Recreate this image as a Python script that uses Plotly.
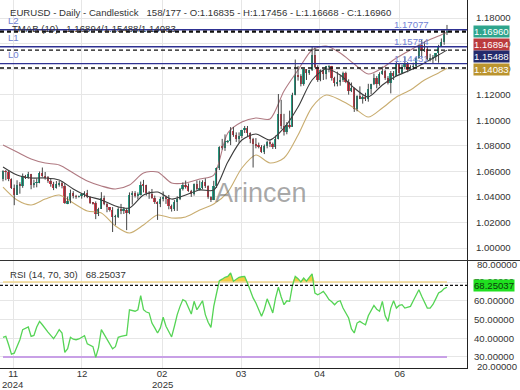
import plotly.graph_objects as go

# ---------------- data ----------------
OPEN = [1.0542, 1.0600, 1.0595, 1.0543, 1.0473, 1.0418, 1.0495, 1.0488, 1.0566, 1.0555,
        1.0577, 1.0497, 1.0509, 1.0512, 1.0588, 1.0567, 1.0554, 1.0528, 1.0501, 1.0467,
        1.0500, 1.0512, 1.0489, 1.0352, 1.0364, 1.0430, 1.0405, 1.0404, 1.0405, 1.0422,
        1.0428, 1.0402, 1.0354, 1.0352, 1.0265, 1.0307, 1.0389, 1.0343, 1.0319, 1.0298,
        1.0244, 1.0244, 1.0308, 1.0292, 1.0301, 1.0273, 1.0415, 1.0431, 1.0408, 1.0415,
        1.0494, 1.0493, 1.0430, 1.0424, 1.0390, 1.0362, 1.0344, 1.0381, 1.0403, 1.0382,
        1.0330, 1.0308, 1.0362, 1.0383, 1.0464, 1.0491, 1.0484, 1.0448, 1.0420, 1.0501,
        1.0458, 1.0467, 1.0513, 1.0486, 1.0398, 1.0376, 1.0485, 1.0626, 1.0792, 1.0783,
        1.0834, 1.0834, 1.0918, 1.0888, 1.0851, 1.0880, 1.0922, 1.0943, 1.0899, 1.0853,
        1.0816, 1.0803, 1.0792, 1.0753, 1.0799, 1.0829, 1.0816, 1.0792, 1.0853, 1.1049,
        1.0958, 1.0907, 1.0961, 1.0950, 1.1197, 1.1357, 1.1345, 1.1285, 1.1399, 1.1367,
        1.1393, 1.1512, 1.1420, 1.1311, 1.1391, 1.1362, 1.1421, 1.1424, 1.1329, 1.1290,
        1.1296, 1.1313, 1.1372, 1.1302, 1.1228, 1.1251, 1.1089, 1.1187, 1.1173, 1.1185,
        1.1163, 1.1243, 1.1284, 1.1329, 1.1282, 1.1364, 1.1385, 1.1328, 1.1290, 1.1370,
        1.1347, 1.1443, 1.1371, 1.1419, 1.1445, 1.1397, 1.1420, 1.1423, 1.1487, 1.1585,
        1.1548, 1.1561, 1.1478, 1.1480, 1.1496, 1.1523, 1.1581, 1.1609, 1.16835]
HIGH = [1.0609, 1.0610, 1.0610, 1.0545, 1.0497, 1.0530, 1.0515, 1.0583, 1.0572, 1.0596,
        1.0580, 1.0535, 1.0545, 1.0599, 1.0630, 1.0595, 1.0563, 1.0540, 1.0518, 1.0524,
        1.0525, 1.0520, 1.0509, 1.0403, 1.0457, 1.0445, 1.0416, 1.0410, 1.0425, 1.0444,
        1.0455, 1.0405, 1.0360, 1.0365, 1.0315, 1.0437, 1.0410, 1.0355, 1.0321, 1.0320,
        1.0260, 1.0320, 1.0345, 1.0320, 1.0311, 1.0435, 1.0445, 1.0445, 1.0435, 1.0520,
        1.0533, 1.0495, 1.0445, 1.0462, 1.0410, 1.0365, 1.0400, 1.0442, 1.0410, 1.0415,
        1.0340, 1.0375, 1.0405, 1.0470, 1.0513, 1.0528, 1.0505, 1.0455, 1.0505, 1.0528,
        1.0528, 1.0530, 1.0545, 1.0490, 1.0405, 1.0526, 1.0630, 1.0796, 1.0854, 1.0889,
        1.0845, 1.0946, 1.0947, 1.0905, 1.0905, 1.0925, 1.0955, 1.0955, 1.0905, 1.0862,
        1.0860, 1.0825, 1.0805, 1.0810, 1.0840, 1.0850, 1.0825, 1.0880, 1.1205, 1.1160,
        1.1050, 1.0985, 1.1075, 1.1215, 1.1475, 1.1425, 1.1360, 1.1402, 1.1400, 1.1395,
        1.1573, 1.1570, 1.1430, 1.1397, 1.1400, 1.1425, 1.1430, 1.1425, 1.1340, 1.1380,
        1.1350, 1.1380, 1.1380, 1.1320, 1.1295, 1.1255, 1.1195, 1.1265, 1.1195, 1.1215,
        1.1285, 1.1285, 1.1365, 1.1345, 1.1375, 1.1420, 1.1395, 1.1345, 1.1385, 1.1385,
        1.1455, 1.1445, 1.1435, 1.1495, 1.1455, 1.1430, 1.1450, 1.1495, 1.1590, 1.1631,
        1.1615, 1.1575, 1.1520, 1.1510, 1.1525, 1.1590, 1.1640, 1.1700, 1.17456]
LOW = [1.0522, 1.0530, 1.0523, 1.0462, 1.0335, 1.0415, 1.0425, 1.0471, 1.0540, 1.0541,
       1.0460, 1.0472, 1.0475, 1.0507, 1.0557, 1.0535, 1.0510, 1.0480, 1.0453, 1.0465,
       1.0480, 1.0467, 1.0345, 1.0343, 1.0350, 1.0388, 1.0385, 1.0395, 1.0386, 1.0397,
       1.0390, 1.0345, 1.0340, 1.0226, 1.0250, 1.0305, 1.0335, 1.0280, 1.0285, 1.0125,
       1.0178, 1.0235, 1.0265, 1.0266, 1.0140, 1.0265, 1.0340, 1.0395, 1.0380, 1.0412,
       1.0435, 1.0410, 1.0385, 1.0385, 1.0345, 1.0220, 1.0320, 1.0365, 1.0345, 1.0303,
       1.0285, 1.0290, 1.0290, 1.0375, 1.0450, 1.0465, 1.0440, 1.0400, 1.0410, 1.0450,
       1.0450, 1.0460, 1.0470, 1.0385, 1.0360, 1.0375, 1.0470, 1.0610, 1.0770, 1.0760,
       1.0820, 1.0805, 1.0870, 1.0830, 1.0823, 1.0860, 1.0900, 1.0870, 1.0820, 1.0630,
       1.0780, 1.0780, 1.0745, 1.0735, 1.0780, 1.0790, 1.0775, 1.0775, 1.0850, 1.0930,
       1.0880, 1.0890, 1.0935, 1.0950, 1.1195, 1.1310, 1.1265, 1.1270, 1.1315, 1.1355,
       1.1385, 1.1410, 1.1300, 1.1305, 1.1315, 1.1320, 1.1375, 1.1310, 1.1265, 1.1265,
       1.1270, 1.1300, 1.1290, 1.1200, 1.1220, 1.1065, 1.1070, 1.1165, 1.1130, 1.1150,
       1.1145, 1.1205, 1.1275, 1.1250, 1.1270, 1.1355, 1.1315, 1.1280, 1.1210, 1.1315,
       1.1345, 1.1355, 1.1370, 1.1400, 1.1375, 1.1395, 1.1395, 1.1410, 1.1480, 1.1490,
       1.1535, 1.1470, 1.1460, 1.1445, 1.1465, 1.1450, 1.1580, 1.1590, 1.16668]
CLOSE = [1.0600, 1.0595, 1.0543, 1.0473, 1.0418, 1.0495, 1.0488, 1.0566, 1.0555, 1.0577,
         1.0497, 1.0509, 1.0512, 1.0588, 1.0567, 1.0554, 1.0528, 1.0501, 1.0467, 1.0500,
         1.0512, 1.0489, 1.0352, 1.0364, 1.0430, 1.0405, 1.0404, 1.0405, 1.0422, 1.0428,
         1.0402, 1.0354, 1.0352, 1.0265, 1.0307, 1.0389, 1.0343, 1.0319, 1.0298, 1.0244,
         1.0244, 1.0308, 1.0292, 1.0301, 1.0273, 1.0415, 1.0431, 1.0408, 1.0415, 1.0494,
         1.0493, 1.0430, 1.0424, 1.0390, 1.0362, 1.0344, 1.0381, 1.0403, 1.0382, 1.0330,
         1.0308, 1.0362, 1.0383, 1.0464, 1.0491, 1.0484, 1.0448, 1.0420, 1.0501, 1.0458,
         1.0467, 1.0513, 1.0486, 1.0398, 1.0376, 1.0485, 1.0626, 1.0792, 1.0783, 1.0834,
         1.0834, 1.0918, 1.0888, 1.0851, 1.0880, 1.0922, 1.0943, 1.0899, 1.0853, 1.0816,
         1.0803, 1.0792, 1.0753, 1.0799, 1.0829, 1.0816, 1.0792, 1.0853, 1.1049, 1.0958,
         1.0907, 1.0961, 1.0950, 1.1197, 1.1357, 1.1345, 1.1285, 1.1399, 1.1367, 1.1393,
         1.1512, 1.1420, 1.1311, 1.1391, 1.1362, 1.1421, 1.1424, 1.1329, 1.1290, 1.1296,
         1.1313, 1.1372, 1.1302, 1.1228, 1.1251, 1.1089, 1.1187, 1.1173, 1.1185, 1.1163,
         1.1243, 1.1284, 1.1329, 1.1282, 1.1364, 1.1385, 1.1328, 1.1290, 1.1370, 1.1347,
         1.1443, 1.1371, 1.1419, 1.1445, 1.1397, 1.1420, 1.1423, 1.1487, 1.1585, 1.1548,
         1.1561, 1.1478, 1.1480, 1.1496, 1.1523, 1.1581, 1.1609, 1.16835, 1.16960]

BAND_IDX = [0, 5, 10, 15, 20, 25, 30, 35, 40, 45, 50, 55, 60, 65, 70, 75, 80, 85, 90, 95,
            100, 105, 110, 115, 120, 125, 130, 135, 140, 145, 150, 155, 158]
TMA_UPPER = [1.0806, 1.0751, 1.0697, 1.0665, 1.0650, 1.0587, 1.0524, 1.0485, 1.0462, 1.0493,
             1.0587, 1.0595, 1.0509, 1.0509, 1.0540, 1.0571, 1.0900, 1.0986, 1.1017, 1.1010,
             1.1229, 1.1393, 1.1550, 1.1581, 1.1526, 1.1440, 1.1362, 1.1409, 1.1487, 1.1550,
             1.1612, 1.1659, 1.16894]
TMA_MID = [1.0634, 1.0571, 1.0548, 1.0548, 1.0532, 1.0462, 1.0407, 1.0376, 1.0329, 1.0313,
           1.0415, 1.0438, 1.0383, 1.0415, 1.0454, 1.0454, 1.0673, 1.0845, 1.0892, 1.0845,
           1.0939, 1.1103, 1.1315, 1.1401, 1.1354, 1.1252, 1.1182, 1.1276, 1.1346, 1.1393,
           1.1448, 1.1510, 1.15488]
TMA_LOWER = [1.0477, 1.0376, 1.0337, 1.0383, 1.0415, 1.0352, 1.0290, 1.0274, 1.0172, 1.0117,
             1.0180, 1.0258, 1.0235, 1.0243, 1.0297, 1.0344, 1.0438, 1.0626, 1.0728, 1.0665,
             1.0704, 1.0884, 1.1103, 1.1197, 1.1158, 1.1096, 1.1025, 1.1096, 1.1182, 1.1237,
             1.1315, 1.1370, 1.14083]

RSI = [40.5, 41.0, 36.5, 31.5, 32.0, 36.0, 39.2, 44.6, 45.5, 46.0,
       41.0, 41.5, 46.0, 49.0, 47.2, 45.0, 43.3, 41.5, 39.8, 42.0,
       44.6, 42.8, 32.5, 34.4, 40.5, 39.5, 39.2, 39.6, 40.5, 41.4,
       37.0, 36.2, 35.5, 29.8, 35.0, 44.6, 42.0, 40.1, 37.5, 34.4,
       35.5, 40.5, 41.0, 41.4, 41.6, 55.2, 54.8, 54.4, 55.2, 62.7,
       55.2, 54.0, 53.5, 48.1, 45.5, 42.8, 45.5, 51.2, 46.4, 43.5,
       40.7, 46.4, 52.6, 57.0, 60.6, 59.7, 56.0, 52.9, 59.7, 55.2,
       57.5, 60.0, 52.6, 48.5, 45.8, 57.0, 64.0, 70.7, 71.5, 72.5,
       73.0, 74.8, 70.4, 71.5, 72.5, 72.8, 73.0, 69.5, 65.0, 61.5,
       58.8, 55.0, 51.7, 55.5, 61.0, 57.5, 53.5, 61.5, 67.2, 62.0,
       57.9, 60.0, 59.7, 68.0, 73.0, 71.8, 70.0, 72.1, 70.4, 72.5,
       74.3, 64.1, 63.2, 64.0, 65.0, 63.0, 60.6, 59.5, 57.9, 59.5,
       60.0, 56.1, 53.0, 50.8, 45.0, 42.8, 48.1, 49.0, 48.0, 47.2,
       52.0, 54.4, 57.5, 55.5, 54.4, 59.7, 52.0, 49.0, 56.1, 60.0,
       56.1, 57.5, 57.9, 56.1, 56.5, 57.0, 60.0, 63.0, 65.9, 62.4,
       59.0, 56.1, 56.1, 58.0, 61.0, 64.1, 65.0, 66.5, 67.2, 68.25037]

RSI_OB, RSI_OS = 70, 30
L_NAMES = ["L2", "L1", "L0"]
L_LEVELS = [1.17077, 1.15754, 1.14431]
LAST_CLOSE = 1.16960
TMA_LAST = [1.16894, 1.15488, 1.14083]
RSI_LAST = 68.25037

XTICK_POS = [3.6, 28.1, 56.6, 84.7, 112.7, 141.2]
XTICK_TEXT = ["11", "12", "02", "03", "04", "06"]
YEAR_POS = [3.6, 56.6]
YEAR_TEXT = ["2024", "2025"]
PRICE_TICKS = [1.00, 1.02, 1.04, 1.06, 1.08, 1.10, 1.12, 1.14, 1.16, 1.18]
RSI_TICKS = [30, 40, 50, 60, 70]
RSI_EDGE_TICKS = [80, 20]

TITLE = "EURUSD - Daily - Candlestick   158/177 - O:1.16835 - H:1.17456 - L:1.16668 - C:1.16960"
TMA_TITLE = "TMAB (10)   1.16894/1.15488/1.14083"
RSI_TITLE = "RSI (14, 70, 30)   68.25037"

# ---------------- geometry ----------------
W, H = 520, 390
ML, MR, MT, MB = 0, 53, 0, 22
PW, PH = W - ML - MR, H - MT - MB


def fx(px):
    return (px - ML) / PW


def fy(py):
    return (PH + MT - py) / PH


FONT = "Liberation Sans, Arial, sans-serif"
TXT = "#333333"
GRID = "#e6e6e6"
UP, DOWN, WICK = "#23a387", "#dc3c4b", "#444444"
FS = 9.6

n = len(CLOSE)
idx = list(range(n))

fig = go.Figure()

# TMA bands
for vals, col in [(TMA_UPPER, "#b07a82"), (TMA_LOWER, "#c9ad70"), (TMA_MID, "#3b3b3b")]:
    fig.add_trace(go.Scatter(x=BAND_IDX, y=vals, mode="lines",
                             line=dict(color=col, width=1.1, shape="spline", smoothing=0.8),
                             hoverinfo="skip", xaxis="x", yaxis="y"))

# wicks
wx, wy = [], []
for i in idx:
    wx += [i, i, None]
    wy += [LOW[i], HIGH[i], None]
fig.add_trace(go.Scatter(x=wx, y=wy, mode="lines", line=dict(color=WICK, width=1),
                         hoverinfo="skip", xaxis="x", yaxis="y"))

# bodies
base = [min(o, c) for o, c in zip(OPEN, CLOSE)]
hgt = [max(abs(c - o), 0.00025) for o, c in zip(OPEN, CLOSE)]
cols = [UP if c >= o else DOWN for o, c in zip(OPEN, CLOSE)]
fig.add_trace(go.Bar(x=idx, y=hgt, base=base, marker=dict(color=cols, line=dict(width=0)),
                     width=0.62, hoverinfo="skip", xaxis="x", yaxis="y"))

# RSI fill above overbought
ob_line = [RSI_OB] * n
fig.add_trace(go.Scatter(x=idx, y=ob_line, mode="lines", line=dict(width=0),
                         hoverinfo="skip", xaxis="x2", yaxis="y2"))
fig.add_trace(go.Scatter(x=idx, y=[max(v, RSI_OB) for v in RSI], mode="lines",
                         line=dict(width=0), fill="tonexty", fillcolor="rgba(243,200,50,0.9)",
                         hoverinfo="skip", xaxis="x2", yaxis="y2"))
fig.add_trace(go.Scatter(x=idx, y=ob_line, mode="lines", line=dict(color="#f2d68c", width=1.5),
                         hoverinfo="skip", xaxis="x2", yaxis="y2"))
fig.add_trace(go.Scatter(x=idx, y=[RSI_OS] * n, mode="lines", line=dict(color="#c8a0e6", width=1.8),
                         hoverinfo="skip", xaxis="x2", yaxis="y2"))
fig.add_trace(go.Scatter(x=idx, y=RSI, mode="lines", line=dict(color="#55d455", width=1.3),
                         hoverinfo="skip", xaxis="x2", yaxis="y2"))

shapes = []
for lv in L_LEVELS:
    shapes.append(dict(type="line", xref="x domain", yref="y", x0=0, x1=1, y0=lv, y1=lv,
                       line=dict(color="#2e3192", width=1.4)))
for lv in [LAST_CLOSE] + TMA_LAST:
    shapes.append(dict(type="line", xref="x domain", yref="y", x0=0, x1=1, y0=lv, y1=lv,
                       line=dict(color="#111111", width=1.4, dash="4px,3px")))
shapes.append(dict(type="line", xref="x2 domain", yref="y2", x0=0, x1=1, y0=RSI_LAST, y1=RSI_LAST,
                   line=dict(color="#111111", width=1.2, dash="3px,2px")))
shapes.append(dict(type="line", xref="paper", yref="paper", x0=0, x1=fx(W), y0=fy(260.5), y1=fy(260.5),
                   line=dict(color="#333333", width=1.2)))

ann = []
ann.append(dict(text=TITLE, xref="paper", yref="paper", x=fx(8), y=fy(12), xanchor="left",
                yanchor="middle", showarrow=False, font=dict(size=FS, color=TXT)))
ann.append(dict(text=TMA_TITLE, xref="paper", yref="paper", x=fx(10), y=fy(28.5), xanchor="left",
                yanchor="middle", showarrow=False, font=dict(size=FS, color=TXT)))
ann.append(dict(text=RSI_TITLE, xref="paper", yref="paper", x=fx(8), y=fy(274), xanchor="left",
                yanchor="middle", showarrow=False, font=dict(size=FS, color=TXT)))
for name, lv in zip(L_NAMES, L_LEVELS):
    ann.append(dict(text=name, xref="paper", yref="y", x=fx(6), y=lv, xanchor="left",
                    yanchor="middle", yshift=9, showarrow=False, font=dict(size=FS, color="#6f7fd0")))
    ann.append(dict(text=f"{lv:.5f}", xref="paper", yref="y", x=fx(392), y=lv, xanchor="left",
                    yanchor="middle", yshift=5, showarrow=False, font=dict(size=FS, color="#7384d6")))
ann.append(dict(text="Arincen", xref="paper", yref="paper", x=fx(261), y=fy(193), xanchor="center",
                yanchor="middle", showarrow=False, font=dict(size=27, color="rgba(110,110,110,0.6)")))

boxes = [(LAST_CLOSE, 0, "#2ea58d"), (TMA_LAST[0], -12, "#bb3a3d"),
         (TMA_LAST[1], -6, "#232b6c"), (TMA_LAST[2], -1, "#bb942e")]
for val, ys, bg in boxes:
    ann.append(dict(text=f"{val:.5f}", xref="paper", yref="y", x=fx(473), y=val, yshift=ys,
                    xanchor="left", yanchor="middle", showarrow=False, bgcolor=bg, borderpad=0,
                    font=dict(size=FS, color="white")))
ann.append(dict(text=f"{RSI_LAST:.5f}", xref="paper", yref="y2", x=fx(473), y=RSI_LAST,
                xanchor="left", yanchor="middle", showarrow=False, bgcolor="#1fe01f", borderpad=0,
                font=dict(size=FS, color="#0d3b0d")))
for v, py in zip(RSI_EDGE_TICKS, [264, 366]):
    ann.append(dict(text=f"{v:.5f}", xref="paper", yref="paper", x=fx(475), y=fy(py),
                    xanchor="left", yanchor="middle", showarrow=False, font=dict(size=FS, color=TXT)))
for xp, yt in zip(YEAR_POS, YEAR_TEXT):
    ann.append(dict(text=yt, xref="x2", yref="paper", x=xp, y=fy(384.5), xanchor="center",
                    yanchor="middle", showarrow=False, font=dict(size=FS, color=TXT)))

x_range = [-1.07, 165.12]
fig.update_layout(
    width=W, height=H, margin=dict(l=ML, r=MR, t=MT, b=MB, autoexpand=False),
    paper_bgcolor="white", plot_bgcolor="white", showlegend=False,
    font=dict(family=FONT, size=FS, color=TXT),
    barmode="overlay", bargap=0,
    shapes=shapes, annotations=ann,
    xaxis=dict(domain=[0, 1], range=x_range, anchor="y", tickvals=XTICK_POS, showticklabels=False,
               showgrid=True, gridcolor=GRID, zeroline=False, ticks="", automargin=False),
    xaxis2=dict(domain=[0, 1], range=x_range, anchor="y2", matches="x", tickvals=XTICK_POS,
                ticktext=XTICK_TEXT, showgrid=True, gridcolor=GRID, zeroline=False, ticks="",
                showline=True, linecolor="#222222", linewidth=1.2, automargin=False,
                ticklabelstandoff=-4, tickfont=dict(size=FS, color=TXT)),
    yaxis=dict(domain=[fy(260), 1], range=[0.99061, 1.19409], side="right", tickvals=PRICE_TICKS,
               tickformat=".5f", showgrid=True, gridcolor=GRID, zeroline=False, ticks="",
               showline=True, linecolor="#222222", linewidth=1.2, ticklabelstandoff=6,
               automargin=False, tickfont=dict(size=FS, color=TXT)),
    yaxis2=dict(domain=[0, fy(261)], range=[24.13, 81.2], side="right", tickvals=RSI_TICKS,
                tickformat=".5f", showgrid=True, gridcolor=GRID, zeroline=False, ticks="",
                showline=True, linecolor="#222222", linewidth=1.2, ticklabelstandoff=4,
                automargin=False, tickfont=dict(size=FS, color=TXT)),
)

fig.write_html("out.html", config={"displayModeBar": False},
               post_script="document.body.style.margin='0';document.body.style.padding='0';"
                           "document.body.style.overflow='hidden';")
